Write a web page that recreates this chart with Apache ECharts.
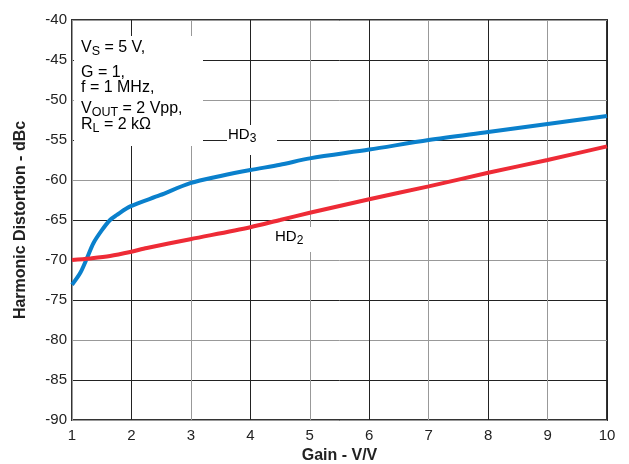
<!DOCTYPE html>
<html>
<head>
<meta charset="utf-8">
<script src="https://cdn.jsdelivr.net/npm/echarts@6/dist/echarts.min.js"></script>
<style>
	html, body { margin: 0; padding: 0; background: #fff; }
	#chart { width: 629px; height: 464px; }
</style>
</head>
<body>
<div id="chart"></div>
<script>
// 数据
let hd3_data = [
	[1, -73.1], [1.14, -71.6], [1.25, -69.8], [1.36, -67.9], [1.5, -66.3], [1.64, -65.0],
	[1.75, -64.4], [1.98, -63.3], [2.48, -61.9], [2.99, -60.4], [3.5, -59.5], [4, -58.75],
	[4.5, -58.1], [5, -57.3], [6, -56.2], [7, -55.0], [8, -54.0], [9, -53.0], [10, -52.0],
];
let hd2_data = [
	[1, -70.0], [1.3, -69.8], [1.64, -69.5], [1.98, -69.0], [2.26, -68.5], [2.99, -67.4],
	[4, -65.9], [4.5, -65.0], [5, -64.1], [6, -62.4], [7, -60.8], [8, -59.1], [9, -57.5], [10, -55.8],
];
let x_range = [1, 10];
let y_range = [-90, -40];
// 条件说明文字（每行）
let note_lines = [
	'{n|V}{s|S}{n| = 5 V,}',
	'{n|G = 1,}',
	'{n|f = 1 MHz,}',
	'{n|V}{s|OUT}{n| = 2 Vpp,}',
	'{n|R}{s|L}{n| = 2 kΩ}',
];
let note_tops = [40, 65, 80, 101, 117];

let font = '"Liberation Sans", Arial, sans-serif';
let chart = echarts.init(document.getElementById('chart'));

let rich = (size, sub) => ({
	n: { fontFamily: font, fontSize: size, lineHeight: 20, color: '#222', verticalAlign: 'middle' },
	s: { fontFamily: font, fontSize: sub, lineHeight: 11, color: '#222', verticalAlign: 'bottom' },
});

let graphic = [
	// 条件说明框
	{ type: 'rect', z: 1, shape: { x: 74, y: 36, width: 129, height: 110 }, style: { fill: '#fff' } },
	// HD3 标签背景
	{ type: 'rect', z: 1, shape: { x: 227, y: 125, width: 50, height: 30 }, style: { fill: '#fff' } },
	{ type: 'text', z: 2, left: 228, top: 127, style: { text: '{n|HD}{s|3}', rich: rich(15, 12) } },
	// HD2 标签背景
	{ type: 'rect', z: 1, shape: { x: 271, y: 227, width: 41, height: 25 }, style: { fill: '#fff' } },
	{ type: 'text', z: 2, left: 275, top: 229, style: { text: '{n|HD}{s|2}', rich: rich(15, 12) } },
];
note_lines.forEach((t, i) => {
	graphic.push({ type: 'text', z: 2, left: 81, top: note_tops[i], style: { text: t, rich: rich(16, 12.5) } });
});

let option = {
	animation: false,
	backgroundColor: '#fff',
	grid: {
		left: 72,
		right: 22,
		top: 20,
		bottom: 44,
		outerBoundsMode: 'none',
		show: true,
		borderColor: '#333',
		borderWidth: 2,
	},
	xAxis: {
		type: 'value',
		min: x_range[0],
		max: x_range[1],
		interval: 1,
		name: 'Gain - V/V',
		nameLocation: 'middle',
		nameGap: 24,
		nameTextStyle: { fontFamily: font, fontSize: 16, fontWeight: 'bold', color: '#222' },
		axisLine: { show: false },
		axisTick: { show: false },
		axisLabel: { fontFamily: font, fontSize: 15, color: '#222', margin: 8 },
		splitLine: { lineStyle: { color: ['#999', '#222'], width: 1 } },
	},
	yAxis: {
		type: 'value',
		min: y_range[0],
		max: y_range[1],
		interval: 5,
		name: 'Harmonic Distortion - dBc',
		nameLocation: 'middle',
		nameGap: 43,
		nameTextStyle: { fontFamily: font, fontSize: 16, fontWeight: 'bold', color: '#222' },
		axisLine: { show: false },
		axisTick: { show: false },
		axisLabel: { fontFamily: font, fontSize: 15, color: '#222', margin: 5 },
		splitLine: { lineStyle: { color: ['#999', '#222'], width: 1 } },
	},
	graphic: graphic,
	series: [
		{
			name: 'HD3',
			type: 'line',
			data: hd3_data,
			smooth: 0.3,
			showSymbol: false,
			z: 3,
			lineStyle: { color: '#0a80cc', width: 4 },
		},
		{
			name: 'HD2',
			type: 'line',
			data: hd2_data,
			smooth: 0.3,
			showSymbol: false,
			z: 3,
			lineStyle: { color: '#ee2b36', width: 4 },
		},
	],
};
chart.setOption(option);
</script>
</body>
</html>
